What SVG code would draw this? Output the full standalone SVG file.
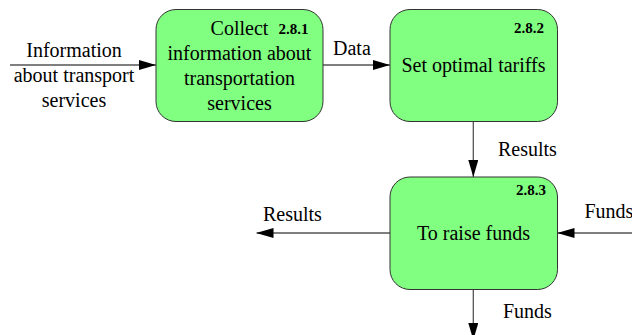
<svg xmlns="http://www.w3.org/2000/svg" width="632" height="335" viewBox="0 0 632 335" font-family="Liberation Serif, Tinos, Times, serif">
<style>
.box{fill:#80ff80;stroke:#333;stroke-width:1}
.t{font-size:20px;fill:#000}
.c{text-anchor:middle}
.n{font-size:15px;font-weight:bold;fill:#000;text-anchor:end}
.ln{stroke:#555;stroke-width:1.3;fill:none}
</style>
<defs>
<marker id="ah" markerWidth="17" markerHeight="10" refX="17" refY="5" orient="auto" markerUnits="userSpaceOnUse">
<path d="M0,0 L17,5 L0,10 Z" fill="#000"/>
</marker>
</defs>
<rect width="632" height="335" fill="#fff"/>
<g id="connectors">
<line class="ln" x1="10" y1="65" x2="156" y2="65" marker-end="url(#ah)"/>
<line class="ln" x1="323" y1="65" x2="390" y2="65" marker-end="url(#ah)"/>
<line class="ln" x1="473.3" y1="121.5" x2="473.3" y2="177" marker-end="url(#ah)"/>
<line class="ln" x1="390" y1="233" x2="256.5" y2="233" marker-end="url(#ah)"/>
<line class="ln" x1="640" y1="233" x2="557.5" y2="233" marker-end="url(#ah)"/>
<line class="ln" x1="473.3" y1="289.5" x2="473.3" y2="340" marker-end="url(#ah)"/>
<text class="t c" x="74" y="57">Information</text>
<text class="t c" x="74" y="82">about transport</text>
<text class="t c" x="74" y="107">services</text>
<text class="t" x="333" y="55">Data</text>
<text class="t" x="498" y="156">Results</text>
<text class="t" x="263" y="221">Results</text>
<text class="t" x="584.5" y="218">Funds</text>
<text class="t" x="503" y="318">Funds</text>
</g>
<g id="n281">
<rect class="box" x="156" y="9.5" width="167" height="112" rx="20"/>
<text class="n" x="308.5" y="34">2.8.1</text>
<text class="t c" x="239.5" y="35">Collect</text>
<text class="t c" x="239.5" y="60">information about</text>
<text class="t c" x="239.5" y="85">transportation</text>
<text class="t c" x="239.5" y="110">services</text>
</g>
<g id="n282">
<rect class="box" x="390" y="9.5" width="167.5" height="112" rx="20"/>
<text class="n" x="544" y="32.5">2.8.2</text>
<text class="t c" x="473.5" y="71.5">Set optimal tariffs</text>
</g>
<g id="n283">
<rect class="box" x="390" y="177" width="167.5" height="112.5" rx="20"/>
<text class="n" x="546" y="195">2.8.3</text>
<text class="t c" x="473.5" y="239.5">To raise funds</text>
</g>
</svg>
